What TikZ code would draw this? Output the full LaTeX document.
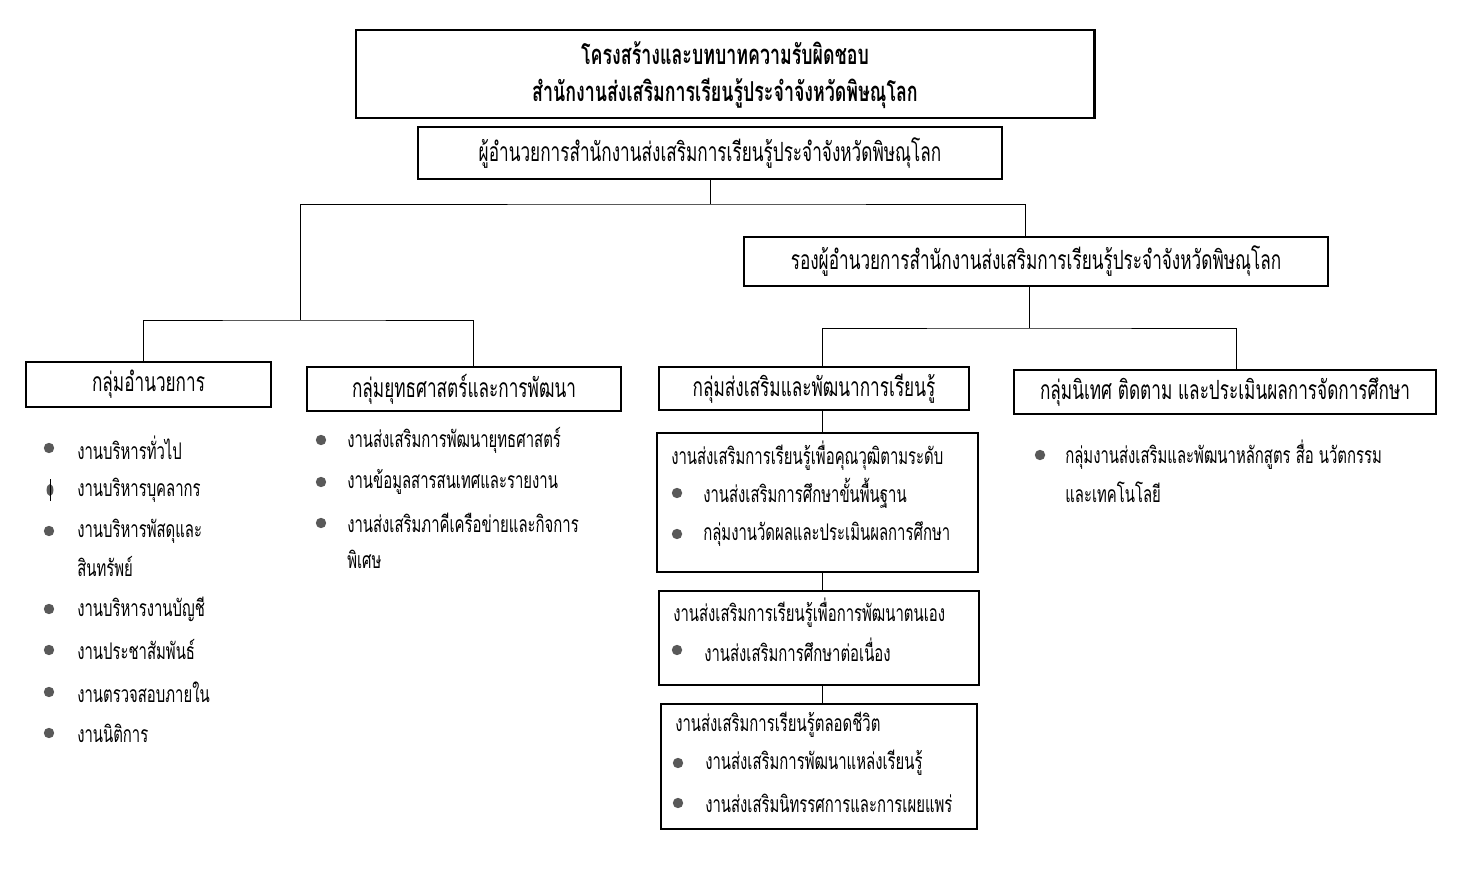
\documentclass[tikz,border=0pt]{standalone}
\usepackage{fontspec}
\setmainfont[Script=Thai, FakeStretch=0.65]{Loma}
\usepackage{tikz}
\usetikzlibrary{positioning,shapes.geometric}

\begin{document}
\begin{tikzpicture}[x=0.025cm, y=-0.025cm]

\tikzstyle{box}=[draw, line width=0.9pt, inner sep=0pt]
\tikzstyle{headbox}=[box, line width=2pt]
\tikzstyle{grptext}=[font=\fontsize{18.8}{22}\selectfont]
\tikzstyle{itemtext}=[anchor=west, inner sep=0pt, font=\fontsize{16.3}{19}\selectfont]
\tikzstyle{bullet}=[circle, fill=black!65, minimum size=0.26cm, inner sep=0pt]

\useasboundingbox (0,0) rectangle (1462,872);

% header boxes
\node[headbox, minimum width=18.45cm, minimum height=2.2cm] (title) at (725,74) {};
\node[font=\bfseries\fontsize{19.5}{22}\selectfont] (t1) at (725,53) {โครงสร้างและบทบาทความรับผิดชอบ};
\node[font=\bfseries\fontsize{19.5}{22}\selectfont] (t2) at (725,93) {สำนักงานส่งเสริมการเรียนรู้ประจำจังหวัดพิษณุโลก};

\node[box, grptext, minimum width=14.6cm, minimum height=1.3cm] (dir) at (710,153) {ผู้อำนวยการสำนักงานส่งเสริมการเรียนรู้ประจำจังหวัดพิษณุโลก};
\node[box, grptext, minimum width=14.6cm, minimum height=1.225cm] (dep) at (1036,261.5) {รองผู้อำนวยการสำนักงานส่งเสริมการเรียนรู้ประจำจังหวัดพิษณุโลก};

% groups
\node[box, grptext, minimum width=6.125cm, minimum height=1.125cm] (g1) at (148.5,384.5) {กลุ่มอำนวยการ};
\node[box, grptext, minimum width=7.85cm, minimum height=1.1cm] (g2) at (464,389) {กลุ่มยุทธศาสตร์และการพัฒนา};
\node[box, grptext, minimum width=7.75cm, minimum height=1.075cm] (g3) at (814,388.5) {กลุ่มส่งเสริมและพัฒนาการเรียนรู้};
\node[box, grptext, minimum width=10.55cm, minimum height=1.1cm] (g4) at (1225,392) {กลุ่มนิเทศ ติดตาม และประเมินผลการจัดการศึกษา};

% sub boxes under g3
\node[box, minimum width=8.025cm, minimum height=3.475cm] (bA) at (817.5,502.5) {};
\node[box, minimum width=8cm, minimum height=2.35cm] (bB) at (819,638) {};
\node[box, minimum width=7.9cm, minimum height=3.125cm] (bC) at (819,766.5) {};

% connectors
\coordinate (k1) at (143,0);
\coordinate (k2) at (473,0);
\coordinate (k3) at (1025,0);
\coordinate (k4) at (822,0);
\coordinate (k5) at (1236,0);
\coordinate (cA) at (710,204);
\coordinate (cL) at (300,320);
\coordinate (cR) at (1029,328);

\draw (dir.south) -- (cA);
\draw (g1.north -| k1) |- (cL) -| (g2.north -| k2);
\draw (cL) |- (cA) -| (dep.north -| k3);
\draw (dep.south -| cR) -- (cR);
\draw (g3.north -| k4) |- (cR) -| (g4.north -| k5);
\draw (g3.south -| k4) -- (bA.north -| k4);
\draw (bA.south -| k4) -- (bB.north -| k4);
\draw (bB.south -| k4) -- (bC.north -| k4);

% list of g1
\node[bullet] (d11) at (49,448) {};
\node[itemtext] (i11) at (77,448) {งานบริหารทั่วไป};
\node[bullet, ellipse, minimum width=0.17cm, minimum height=0.3cm] (d12) at (50,490) {};
\draw ([yshift=-8pt]d12.center) -- ([yshift=8pt]d12.center);
\node[itemtext] (i12) at (77,490) {งานบริหารบุคลากร};
\node[bullet] (d13) at (49,531) {};
\node[itemtext] (i13) at (77,531) {งานบริหารพัสดุและ};
\node[itemtext] (i13b) at (77,567) {สินทรัพย์};
\node[bullet] (d14) at (49,609) {};
\node[itemtext] (i14) at (77,609) {งานบริหารงานบัญชี};
\node[bullet] (d15) at (49,650) {};
\node[itemtext] (i15) at (77,650) {งานประชาสัมพันธ์};
\node[bullet] (d16) at (49,692) {};
\node[itemtext] (i16) at (77,692) {งานตรวจสอบภายใน};
\node[bullet] (d17) at (49,733) {};
\node[itemtext] (i17) at (77,733) {งานนิติการ};

% list of g2
\node[bullet] (d21) at (321,440) {};
\node[itemtext] (i21) at (347,440) {งานส่งเสริมการพัฒนายุทธศาสตร์};
\node[bullet] (d22) at (321,482) {};
\node[itemtext] (i22) at (347,482) {งานข้อมูลสารสนเทศและรายงาน};
\node[bullet] (d23) at (321,523) {};
\node[itemtext] (i23) at (347,523) {งานส่งเสริมภาคีเครือข่ายและกิจการ};
\node[itemtext] (i23b) at (347,559) {พิเศษ};

% box A
\node[itemtext] (hA) at (671,456) {งานส่งเสริมการเรียนรู้เพื่อคุณวุฒิตามระดับ};
\node[bullet] (dA1) at (677,493) {};
\node[itemtext] (iA1) at (703,493) {งานส่งเสริมการศึกษาขั้นพื้นฐาน};
\node[bullet] (dA2) at (677,534) {};
\node[itemtext] (iA2) at (703,534) {กลุ่มงานวัดผลและประเมินผลการศึกษา};

% box B
\node[itemtext] (hB) at (673,613) {งานส่งเสริมการเรียนรู้เพื่อการพัฒนาตนเอง};
\node[bullet] (dB1) at (677,650) {};
\node[itemtext] (iB1) at (704,650) {งานส่งเสริมการศึกษาต่อเนื่อง};

% box C
\node[itemtext] (hC) at (675,725) {งานส่งเสริมการเรียนรู้ตลอดชีวิต};
\node[bullet] (dC1) at (678,763) {};
\node[itemtext] (iC1) at (705,763) {งานส่งเสริมการพัฒนาแหล่งเรียนรู้};
\node[bullet] (dC2) at (678,803) {};
\node[itemtext] (iC2) at (705,803) {งานส่งเสริมนิทรรศการและการเผยแพร่};

% list of g4
\node[bullet] (d41) at (1040,455) {};
\node[itemtext] (i41) at (1065,455) {กลุ่มงานส่งเสริมและพัฒนาหลักสูตร สื่อ นวัตกรรม};
\node[itemtext] (i41b) at (1065,492) {และเทคโนโลยี};

\end{tikzpicture}
\end{document}
